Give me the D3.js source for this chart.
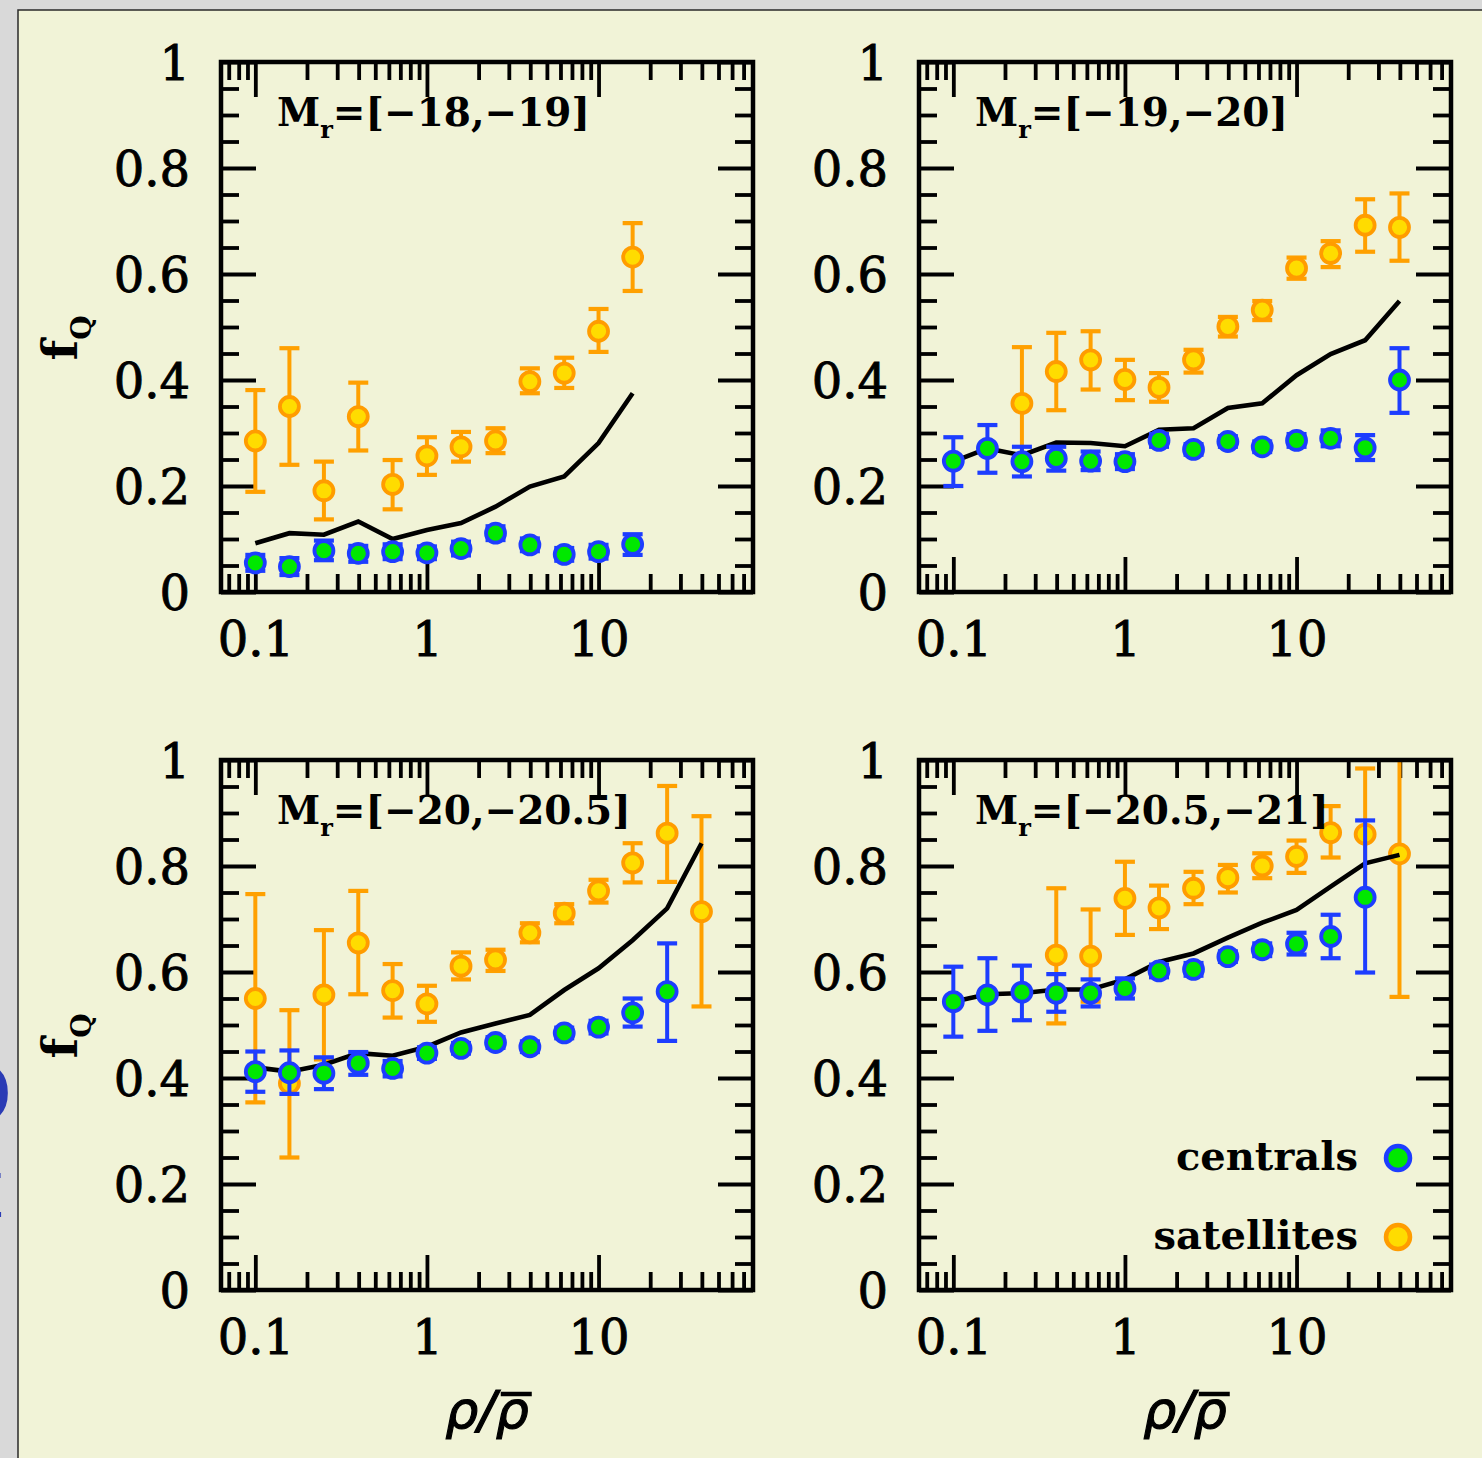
<!DOCTYPE html>
<html>
<head>
<meta charset="utf-8">
<script src="https://cdn.jsdelivr.net/npm/d3@7"></script>
<style>
  html, body { margin: 0; padding: 0; background: #d9d9d9; }
  svg { display: block; }
</style>
</head>
<body>
<script>
// density bins rho/rhobar, 0.2 dex apart
var densityBins = [0.1, 0.158, 0.251, 0.398, 0.631, 1, 1.58, 2.51, 3.98, 6.31, 10, 15.8, 25.1, 39.8];

var panelLabels = ["[−18,−19]", "[−19,−20]", "[−20,−20.5]", "[−20.5,−21]"];
var legendNames = ["centrals", "satellites"];
var xTickValues = [0.1, 1, 10];
var yTickValues = [0, 0.2, 0.4, 0.6, 0.8, 1];

// Mr = [-18,-19]
var sat1   = [0.285, 0.350, 0.191, 0.331, 0.203, 0.257, 0.274, 0.285, 0.397, 0.413, 0.492, 0.632, null, null];
var sat1Lo = [0.189, 0.240, 0.137, 0.267, 0.156, 0.221, 0.246, 0.262, 0.375, 0.385, 0.453, 0.568, null, null];
var sat1Hi = [0.381, 0.460, 0.246, 0.395, 0.249, 0.292, 0.302, 0.309, 0.422, 0.442, 0.534, 0.696, null, null];
var cen1   = [0.055, 0.048, 0.078, 0.073, 0.076, 0.074, 0.082, 0.111, 0.089, 0.071, 0.076, 0.090, null, null];
var cen1Lo = [0.040, 0.032, 0.060, 0.057, 0.062, 0.062, 0.069, 0.098, 0.077, 0.059, 0.063, 0.070, null, null];
var cen1Hi = [0.070, 0.064, 0.097, 0.087, 0.090, 0.086, 0.095, 0.124, 0.101, 0.083, 0.089, 0.109, null, null];
var line1  = [0.092, 0.111, 0.108, 0.133, 0.100, 0.117, 0.130, 0.161, 0.199, 0.218, 0.281, 0.375, null, null];

// Mr = [-19,-20]
var sat2   = [null, null, 0.356, 0.416, 0.438, 0.401, 0.386, 0.438, 0.501, 0.532, 0.611, 0.639, 0.692, 0.688];
var sat2Lo = [null, null, 0.250, 0.343, 0.382, 0.362, 0.359, 0.414, 0.482, 0.513, 0.591, 0.613, 0.642, 0.625];
var sat2Hi = [null, null, 0.462, 0.489, 0.492, 0.438, 0.413, 0.457, 0.519, 0.549, 0.631, 0.662, 0.741, 0.752];
var cen2   = [0.247, 0.271, 0.246, 0.252, 0.247, 0.246, 0.286, 0.269, 0.284, 0.274, 0.286, 0.290, 0.272, 0.400];
var cen2Lo = [0.200, 0.225, 0.218, 0.229, 0.230, 0.232, 0.274, 0.259, 0.274, 0.264, 0.274, 0.275, 0.249, 0.338];
var cen2Hi = [0.292, 0.315, 0.274, 0.274, 0.265, 0.260, 0.298, 0.279, 0.294, 0.284, 0.298, 0.305, 0.296, 0.460];
var line2  = [0.246, 0.271, 0.258, 0.282, 0.281, 0.275, 0.306, 0.309, 0.347, 0.356, 0.409, 0.449, 0.475, 0.549];

// Mr = [-20,-20.5]
var sat3   = [0.550, 0.390, 0.557, 0.655, 0.565, 0.540, 0.611, 0.623, 0.674, 0.711, 0.753, 0.806, 0.862, 0.714];
var sat3Lo = [0.354, 0.250, 0.435, 0.558, 0.514, 0.506, 0.586, 0.602, 0.656, 0.692, 0.731, 0.769, 0.770, 0.535];
var sat3Hi = [0.747, 0.528, 0.679, 0.753, 0.615, 0.574, 0.637, 0.642, 0.692, 0.728, 0.774, 0.843, 0.951, 0.894];
var cen3   = [0.412, 0.410, 0.409, 0.428, 0.418, 0.447, 0.456, 0.467, 0.459, 0.485, 0.496, 0.523, 0.563, null];
var cen3Lo = [0.374, 0.370, 0.379, 0.406, 0.403, 0.436, 0.446, 0.457, 0.449, 0.475, 0.484, 0.497, 0.470, null];
var cen3Hi = [0.450, 0.452, 0.439, 0.449, 0.432, 0.458, 0.466, 0.477, 0.469, 0.495, 0.508, 0.550, 0.654, null];
var line3  = [0.420, 0.412, 0.425, 0.447, 0.442, 0.459, 0.486, 0.503, 0.519, 0.566, 0.607, 0.660, 0.720, 0.843];

// Mr = [-20.5,-21]
var sat4   = [null, null, null, 0.632, 0.630, 0.739, 0.721, 0.758, 0.778, 0.800, 0.818, 0.863, 0.860, 0.823];
var sat4Lo = [null, null, null, 0.503, 0.544, 0.670, 0.681, 0.728, 0.750, 0.777, 0.787, 0.816, 0.736, 0.553];
var sat4Hi = [null, null, null, 0.758, 0.718, 0.808, 0.763, 0.789, 0.802, 0.824, 0.848, 0.913, 0.984, 1.100];
var cen4   = [0.544, 0.557, 0.562, 0.560, 0.560, 0.569, 0.602, 0.605, 0.629, 0.642, 0.653, 0.667, 0.741, null];
var cen4Lo = [0.478, 0.489, 0.509, 0.525, 0.535, 0.550, 0.590, 0.593, 0.619, 0.630, 0.633, 0.626, 0.599, null];
var cen4Hi = [0.610, 0.626, 0.612, 0.596, 0.586, 0.588, 0.614, 0.617, 0.639, 0.654, 0.674, 0.708, 0.886, null];
var line4  = [0.544, 0.558, 0.560, 0.567, 0.567, 0.586, 0.619, 0.635, 0.665, 0.693, 0.717, 0.761, 0.805, 0.821];

var width = 1482,
    height = 1458,
    PW = 532,   // plot box width
    PH = 530;   // plot box height

var panels = [
    {label: panelLabels[0], sat: [sat1, sat1Lo, sat1Hi], cen: [cen1, cen1Lo, cen1Hi], line: line1, x0: 221, y0: 62,  yTitle: true,  xTitle: false, legend: false},
    {label: panelLabels[1], sat: [sat2, sat2Lo, sat2Hi], cen: [cen2, cen2Lo, cen2Hi], line: line2, x0: 919, y0: 62,  yTitle: false, xTitle: false, legend: false},
    {label: panelLabels[2], sat: [sat3, sat3Lo, sat3Hi], cen: [cen3, cen3Lo, cen3Hi], line: line3, x0: 221, y0: 760, yTitle: true,  xTitle: true,  legend: false},
    {label: panelLabels[3], sat: [sat4, sat4Lo, sat4Hi], cen: [cen4, cen4Lo, cen4Hi], line: line4, x0: 919, y0: 760, yTitle: false, xTitle: true,  legend: true}
];

var cenStyle = {fill: "#00e800", stroke: "#1d3dff", bar: "#1d3dff"},
    satStyle = {fill: "#ffdc00", stroke: "#ff9c00", bar: "#ffa000"};

var numFont = "'DejaVu Serif', serif",
    boldFont = "'DejaVu Serif', serif";

var svg = d3.select("body").append("svg")
    .attr("width", width)
    .attr("height", height);

// slide background, with bits of the slide's own text showing at the left edge
svg.append("rect").attr("width", width).attr("height", height).attr("fill", "#d9d9d9");
svg.append("text").attr("x", 12).attr("y", 1123).attr("text-anchor", "end")
    .attr("font-family", "'DejaVu Sans', sans-serif").attr("font-weight", "bold")
    .attr("font-size", 82).attr("fill", "#2b3bb5").text("O");
svg.append("text").attr("x", 5).attr("y", 1217).attr("text-anchor", "end")
    .attr("font-family", "'DejaVu Sans', sans-serif")
    .attr("font-size", 60).attr("fill", "#2b3bb5").text("E");
svg.append("rect")
    .attr("x", 18).attr("y", 10)
    .attr("width", width).attr("height", height)
    .attr("fill", "#f1f3d7")
    .attr("stroke", "#2a2a2a")
    .attr("stroke-width", 1.5);

var x = d3.scaleLog().domain([Math.pow(10, -1.2), Math.pow(10, 1.9)]).range([0, PW]);
var y = d3.scaleLinear().domain([0, 1]).range([PH, 0]);

var xMinor = x.ticks().filter(function(d) { return xTickValues.indexOf(d) < 0; });
var yMinor = y.ticks(20).filter(function(d) { return Math.abs(d * 5 - Math.round(d * 5)) > 1e-6; });

function styleAxis(sel) {
    sel.select(".domain").remove();
    sel.selectAll(".tick line").attr("stroke", "#000").attr("stroke-width", 3.8);
    sel.attr("font-family", numFont).attr("font-size", 48);
    sel.selectAll(".tick text")
        .attr("fill", "#000")
        .attr("stroke", "#000")
        .attr("stroke-width", 0.9);
}

function drawSeries(g, arrs, st) {
    var pts = densityBins.map(function(b, i) {
        return {x: b, v: arrs[0][i], lo: arrs[1][i], hi: arrs[2][i]};
    }).filter(function(d) { return d.v != null; });

    var s = g.append("g");
    s.selectAll(".bar").data(pts).enter().append("line")
        .attr("x1", function(d) { return x(d.x); })
        .attr("x2", function(d) { return x(d.x); })
        .attr("y1", function(d) { return y(d.lo); })
        .attr("y2", function(d) { return y(d.hi); })
        .attr("stroke", st.bar).attr("stroke-width", 4);
    ["lo", "hi"].forEach(function(k) {
        s.selectAll(".cap-" + k).data(pts).enter().append("line")
            .attr("x1", function(d) { return x(d.x) - 10; })
            .attr("x2", function(d) { return x(d.x) + 10; })
            .attr("y1", function(d) { return y(d[k]); })
            .attr("y2", function(d) { return y(d[k]); })
            .attr("stroke", st.bar).attr("stroke-width", 4.2);
    });
    s.selectAll("circle").data(pts).enter().append("circle")
        .attr("cx", function(d) { return x(d.x); })
        .attr("cy", function(d) { return y(d.v); })
        .attr("r", 9.5)
        .attr("fill", st.fill)
        .attr("stroke", st.stroke)
        .attr("stroke-width", 3.8);
}

panels.forEach(function(p, k) {
    var g = svg.append("g").attr("transform", "translate(" + p.x0 + "," + p.y0 + ")");

    // minor ticks
    [[d3.axisBottom(x), "0," + PH], [d3.axisTop(x), "0,0"]].forEach(function(a) {
        g.append("g").attr("transform", "translate(" + a[1] + ")")
            .call(a[0].tickValues(xMinor).tickSize(-18).tickFormat(""))
            .call(styleAxis);
    });
    [[d3.axisLeft(y), "0,0"], [d3.axisRight(y), PW + ",0"]].forEach(function(a) {
        g.append("g").attr("transform", "translate(" + a[1] + ")")
            .call(a[0].tickValues(yMinor).tickSize(-18).tickFormat(""))
            .call(styleAxis);
    });

    // major ticks + labels
    g.append("g").attr("transform", "translate(0," + PH + ")")
        .call(d3.axisBottom(x).tickValues(xTickValues).tickSize(-35).tickPadding(30).tickFormat(String))
        .call(styleAxis);
    g.append("g")
        .call(d3.axisTop(x).tickValues(xTickValues).tickSize(-35).tickFormat(""))
        .call(styleAxis);
    g.append("g")
        .call(d3.axisLeft(y).tickValues(yTickValues).tickSize(-35).tickPadding(31).tickFormat(String))
        .call(styleAxis)
        .selectAll(".tick text").attr("dy", "0.36em");
    g.append("g").attr("transform", "translate(" + PW + ",0)")
        .call(d3.axisRight(y).tickValues(yTickValues).tickSize(-35).tickFormat(""))
        .call(styleAxis);

    // data, clipped to the box
    g.append("clipPath").attr("id", "clip" + k)
        .append("rect").attr("width", PW).attr("height", PH);
    var gd = g.append("g").attr("clip-path", "url(#clip" + k + ")");

    drawSeries(gd, p.sat, satStyle);

    var lineGen = d3.line()
        .defined(function(d) { return d[1] != null; })
        .x(function(d) { return x(d[0]); })
        .y(function(d) { return y(d[1]); });
    gd.append("path")
        .datum(densityBins.map(function(b, i) { return [b, p.line[i]]; }))
        .attr("d", lineGen)
        .attr("fill", "none")
        .attr("stroke", "#000")
        .attr("stroke-width", 4.6);

    drawSeries(gd, p.cen, cenStyle);

    // frame
    g.append("rect")
        .attr("width", PW).attr("height", PH)
        .attr("fill", "none").attr("stroke", "#000").attr("stroke-width", 4.5);

    // panel label M_r=[..]
    var lab = g.append("text")
        .attr("x", 56).attr("y", 64)
        .attr("font-family", boldFont).attr("font-weight", "bold")
        .attr("font-size", 39).attr("fill", "#000");
    lab.append("tspan").text("M");
    lab.append("tspan").attr("font-size", 24).attr("dy", 12).text("r");
    lab.append("tspan").attr("dy", -12).text("=" + p.label);

    if (p.yTitle) {
        var yt = svg.append("text")
            .attr("transform", "translate(77," + (p.y0 + PH / 2 + 11) + ") rotate(-90)")
            .attr("text-anchor", "middle")
            .attr("font-family", boldFont).attr("font-weight", "bold")
            .attr("font-size", 48).attr("fill", "#000");
        yt.append("tspan").text("f");
        yt.append("tspan").attr("font-size", 28).attr("dy", 14).text("Q");
    }

    if (p.xTitle) {
        var cx = p.x0 + PW / 2;
        var xt = svg.append("text")
            .attr("x", cx).attr("y", 1428)
            .attr("text-anchor", "middle")
            .attr("font-family", "'DejaVu Sans', sans-serif").attr("font-style", "italic")
            .attr("font-size", 52).attr("fill", "#000")
            .attr("stroke", "#000").attr("stroke-width", 1.2)
            .text("ρ/ρ");
        var ext = xt.node().getExtentOfChar(2);
        svg.append("line")
            .attr("x1", ext.x + 5).attr("x2", ext.x + ext.width + 3)
            .attr("y1", 1394).attr("y2", 1394)
            .attr("stroke", "#000").attr("stroke-width", 4.5);
    }

    if (p.legend) {
        var lg = g.append("g");
        [[legendNames[0], cenStyle, 398], [legendNames[1], satStyle, 477]].forEach(function(e) {
            lg.append("text")
                .attr("x", 439).attr("y", e[2] + 12)
                .attr("text-anchor", "end")
                .attr("font-family", boldFont).attr("font-weight", "bold")
                .attr("font-size", 40).attr("fill", "#000")
                .text(e[0]);
            lg.append("circle")
                .attr("cx", 479).attr("cy", e[2]).attr("r", 12)
                .attr("fill", e[1].fill).attr("stroke", e[1].stroke).attr("stroke-width", 4.5);
        });
    }
});
</script>
</body>
</html>
